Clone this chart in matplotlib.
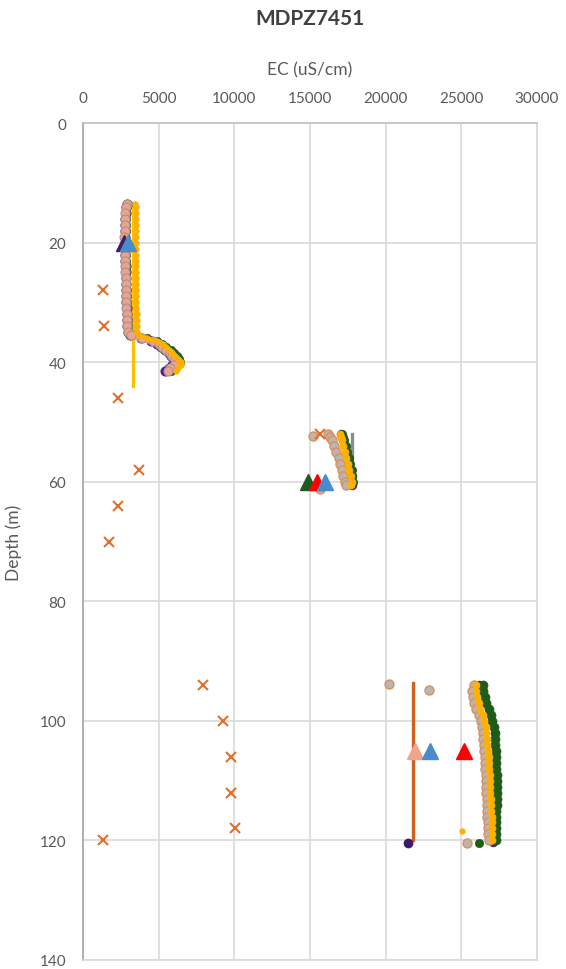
import numpy as np
import matplotlib.pyplot as plt

plt.rcParams['font.family'] = ['Lato', 'DejaVu Sans']

# --- logging profiles (depth m, EC uS/cm) ---
# upper screen
up_depth = [13.5, 14, 15, 16, 17, 18, 19, 20, 21, 22, 23, 24, 25, 26, 27, 28, 29, 30,
            31, 32, 33, 34, 35, 35.5, 36, 36.5, 37, 37.5, 38, 38.5, 39, 39.5, 40, 40.5, 41, 41.5]
up_salmon = [2900, 2850, 2800, 2780, 2760, 2750, 2740, 2750, 2760, 2770, 2780, 2790, 2800, 2810,
             2820, 2830, 2840, 2850, 2870, 2890, 2900, 2920, 2950, 3150, 3900, 4600, 5000, 5250,
             5500, 5750, 5900, 6100, 6300, 6000, 5750, 5600]
up_orange = [3450, 3500, 3500, 3500, 3520, 3520, 3500, 3480, 3500, 3520, 3520, 3500, 3500, 3520,
             3530, 3530, 3520, 3520, 3530, 3540, 3540, 3550, 3560, 3700, 4200, 4900, 5300, 5500,
             5700, 5900, 6100, 6300, 6500, 6450, 6300, 6150]
up_green = [2950, 2900, 2850, 2830, 2820, 2810, 2800, 2800, 2810, 2820, 2830, 2840, 2850, 2860,
            2870, 2880, 2890, 2900, 2920, 2940, 2950, 2970, 3000, 3300, 4200, 4900, 5200, 5500,
            5800, 6000, 6200, 6350, 6400, 6200, 6000, 5800]
up_purple = [2920, 2870, 2820, 2800, 2780, 2770, 2760, 2770, 2780, 2790, 2800, 2810, 2820, 2830,
             2840, 2850, 2860, 2870, 2890, 2910, 2920, 2940, 2960, 3100, 3800, 4500, 4900, 5150,
             5400, 5650, 5800, 6000, 6200, 5900, 5650, 5450]

# middle screen
mid_depth = [52, 52.5, 53, 54, 55, 56, 57, 58, 59, 60, 60.5]
mid_gray = [16200, 16300, 16450, 16600, 16750, 16900, 17000, 17100, 17200, 17300, 17350]
mid_orange = [17000, 17050, 17100, 17200, 17300, 17400, 17500, 17600, 17700, 17750, 17700]
mid_green = [17100, 17150, 17250, 17350, 17450, 17550, 17650, 17750, 17800, 17850, 17400]
mid_purple = [17050, 17100, 17200, 17300, 17400, 17500, 17600, 17700, 17750, 17800, 17750]

# lower screen
low_depth = [94, 95, 96, 97, 98, 99, 100, 101, 102, 103, 104, 105, 106, 107, 108, 109, 110,
             111, 112, 113, 114, 115, 116, 117, 118, 119, 120]
low_gray = [25850, 25700, 25750, 25850, 26000, 26150, 26300, 26350, 26400, 26450, 26500, 26500,
            26550, 26550, 26580, 26600, 26620, 26650, 26650, 26680, 26700, 26700, 26720, 26750,
            26750, 26780, 26800]
low_orange = [26000, 26000, 26050, 26150, 26250, 26400, 26500, 26600, 26650, 26700, 26700, 26750,
              26800, 26820, 26850, 26880, 26900, 26900, 26920, 26950, 26950, 26980, 27000, 27000,
              27000, 27000, 27000]
low_green = [26400, 26450, 26550, 26650, 26800, 26950, 27050, 27150, 27200, 27250, 27250, 27280,
             27300, 27300, 27320, 27330, 27340, 27340, 27340, 27330, 27330, 27320, 27320, 27310,
             27300, 27300, 27300]
low_purple_d = [94, 120.3]
low_purple = [26200, 27100]

# single samples
x_depth = [28, 34, 46, 52, 58, 64, 70, 94, 100, 106, 112, 118, 120]
x_ec = [1300, 1400, 2300, 15650, 3700, 2300, 1750, 7900, 9250, 9800, 9800, 10050, 1300]

gray_pts_d = [52.3, 61.2, 93.9, 94.8, 120.4]
gray_pts_ec = [15200, 15650, 20250, 22880, 25350]
green_pts_d = [120.4]
green_pts_ec = [26150]
purple_pts_d = [120.5]
purple_pts_ec = [21450]
orange_pts_d = [118.5]
orange_pts_ec = [25050]

# triangles (depth, EC, colour)
tri_depth = [20, 20, 60, 60, 60, 105, 105, 105]
tri_ec = [2700, 3000, 14900, 15450, 16000, 21950, 22950, 25200]
tri_col = ['#3D2067', '#4A8CCB', '#1E5B1E', '#FF0000', '#4A8CCB', '#F0A58A', '#4A8CCB', '#FF0000']

# vertical lines (EC, top, bottom, colour)
vl_ec = [3320, 17800, 21800]
vl_top = [14, 52, 93.7]
vl_bot = [44, 60.6, 120]
vl_col = ['#FFC000', '#8C8C8C', '#D0611E']

SALMON = dict(mfc='#E9A391', mec='#B09088', mew=0.8)
GRAY = dict(mfc='#BDB3AF', mec='#D9925F', mew=1)
ORANGE = dict(mfc='#FFB000', mec='#FFB000', mew=0.5)
GREEN = dict(mfc='#1F5C1A', mec='#1F5C1A', mew=0.5)
PURPLE = dict(mfc='#4B2382', mec='#4B2382', mew=0.8)


def profile(ax, ec, depth, style, ms, lw, z):
    # dense logger readings: a band of overlapping dots
    ax.plot(ec, depth, '-', color=style['mfc'], lw=lw, solid_capstyle='round', zorder=z)
    ax.plot(ec, depth, 'o', ms=ms, zorder=z, **style)


fig = plt.figure(figsize=(5.66, 9.70), dpi=100)
ax = fig.add_axes([83 / 566, (970 - 961) / 970, 454 / 566, 837 / 970])

for e, t, b, c in zip(vl_ec, vl_top, vl_bot, vl_col):
    ax.plot([e, e], [t, b], color=c, lw=2.4, zorder=2)

profile(ax, up_purple, up_depth, PURPLE, 6.5, 4, 3)
profile(ax, up_green, up_depth, GREEN, 6, 4, 3)
profile(ax, up_salmon, up_depth, SALMON, 6.5, 5, 4)
profile(ax, up_orange, up_depth, ORANGE, 4, 3, 5)

profile(ax, mid_purple, mid_depth, PURPLE, 6, 4, 3)
profile(ax, mid_green, mid_depth, GREEN, 6, 4, 3)
profile(ax, mid_gray, mid_depth, GRAY, 6.5, 5, 4)
profile(ax, mid_orange, mid_depth, ORANGE, 5, 3.5, 5)

ax.plot(low_purple, low_purple_d, 'o', ms=6, zorder=3, **PURPLE)
profile(ax, low_green, low_depth, GREEN, 6.5, 5, 3)
profile(ax, low_gray, low_depth, GRAY, 6.5, 5, 4)
profile(ax, low_orange, low_depth, ORANGE, 5, 3.5, 5)

# single points
ax.plot(gray_pts_ec, gray_pts_d, 'o', ms=6.5, zorder=4, **GRAY)
ax.plot(green_pts_ec, green_pts_d, 'o', ms=6, zorder=4, **GREEN)
ax.plot(purple_pts_ec, purple_pts_d, 'o', ms=6, zorder=4, mfc='#3B1A6E', mec='#3B1A6E')
ax.plot(orange_pts_ec, orange_pts_d, 'o', ms=4, zorder=4, **ORANGE)

ax.plot(x_ec, x_depth, 'x', ms=7, mew=1.5, color='#E0702E', zorder=6)

for e, d, c in zip(tri_ec, tri_depth, tri_col):
    ax.plot(e, d, '^', ms=12, color=c, mec=c, zorder=7)

ax.set_xlim(0, 30000)
ax.set_ylim(140, 0)
ax.set_xticks(np.arange(0, 30001, 5000))
ax.set_yticks(np.arange(0, 141, 20))
ax.xaxis.tick_top()
ax.xaxis.set_label_position('top')
ax.tick_params(length=0, labelsize=11, labelcolor='#595959')
ax.tick_params(axis='x', pad=13)
ax.tick_params(axis='y', pad=12)
ax.grid(True, color='#D9D9D9', lw=1.2, zorder=0)
ax.set_axisbelow(True)
for s in ax.spines.values():
    s.set_color('#D9D9D9')
    s.set_linewidth(1.2)
ax.spines['left'].set_color('#A6A6A6')
ax.spines['top'].set_color('#C0C0C0')

ax.set_xlabel('EC (uS/cm)', fontsize=12.5, color='#595959')
ax.xaxis.set_label_coords(0.5, 1 + (124 - 75) / 837)
ax.set_ylabel('Depth (m)', fontsize=12.5, color='#595959')
ax.yaxis.set_label_coords((22 - 83) / 454, 0.5)

fig.text(310 / 566, 1 - 19 / 970, 'MDPZ7451', ha='center', va='center',
         fontsize=15, fontweight='bold', color='#404040')

fig.savefig('out.png', dpi=100)
